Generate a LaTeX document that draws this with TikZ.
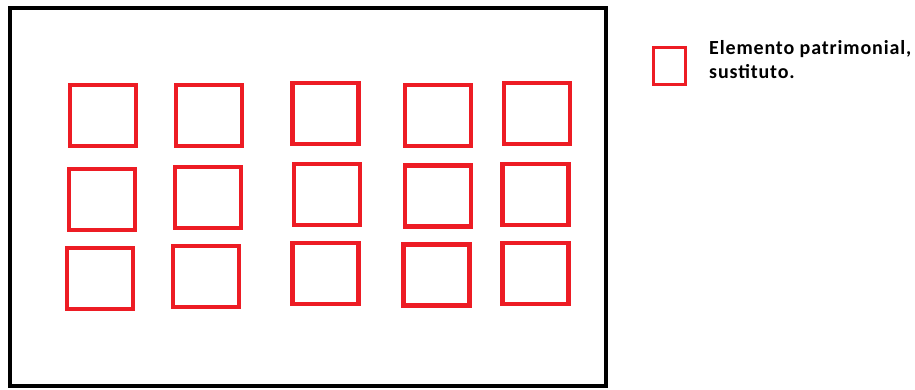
\documentclass[tikz,border=0pt]{standalone}
\usepackage{fontspec}
\setmainfont{Carlito}
\newfontfamily\keyfont[LetterSpace=4.3]{Carlito}
\usetikzlibrary{positioning}

\definecolor{paintred}{HTML}{ED1C24}

\begin{document}
\begin{tikzpicture}[x=1pt,y=-1pt,
  asset/.style={draw=paintred,line width=4.5pt,minimum width=66pt,minimum height=61pt,inner sep=0pt},
  legendbox/.style={draw=paintred,line width=2.7pt,minimum width=32.5pt,minimum height=37.5pt,inner sep=0pt}]
  \useasboundingbox (0,0) rectangle (915,389);
  % patrimonio
  \draw[line width=4pt] (10,8) rectangle (606,386);
  \foreach \name/\x/\y in {a1/103/115.5, a2/209/115.5, a3/325.5/113.5, a4/438/115.5, a5/537/113.5,
                           b1/102/199.5, b2/208/197.5, b3/327/194.5, b4/438/196, b5/535.5/194.5,
                           c1/100/278.5, c2/206/276.5, c3/325.5/273.5, c4/436.5/275, c5/535.5/273.5}
    \node[asset] (\name) at (\x,\y) {};
  % leyenda
  \node[legendbox] (key) at (669.5,66) {};
  \node[anchor=base west,inner sep=0pt,align=left,font=\keyfont\bfseries\fontsize{20}{24}\selectfont]
    (keytext) at (709,78) {Elemento patrimonial,\\sustituto.};
\end{tikzpicture}
\end{document}
